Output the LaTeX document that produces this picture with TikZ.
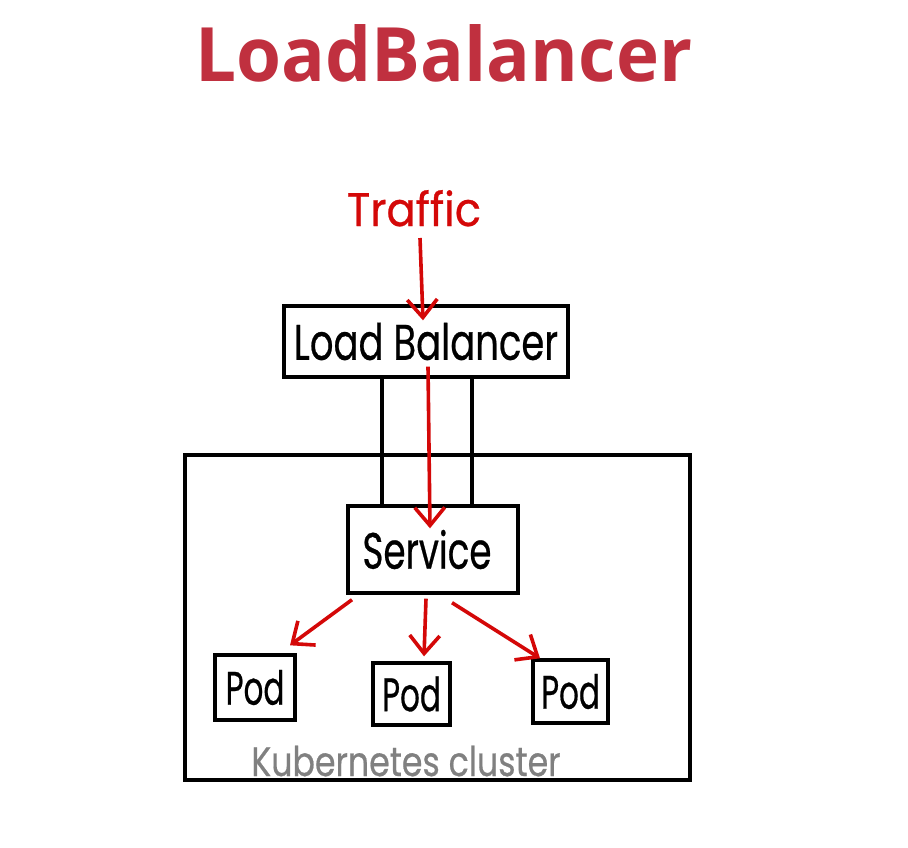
\documentclass[tikz,border=0pt]{standalone}
\usepackage{fontspec}
\usetikzlibrary{arrows.meta}
\newfontfamily\titlefont{Open Sans}[BoldFont={* Bold}]
\newfontfamily\handfont{Poppins}[FakeBold=0.6]
\definecolor{titlered}{RGB}{192,48,63}
\definecolor{inkred}{RGB}{212,8,8}
\definecolor{inkgray}{RGB}{128,128,128}
\newcommand{\hw}[3]{\scalebox{#2}[1]{\fontsize{#1}{#1}\selectfont\handfont #3}}
\tikzset{
  box/.style={draw=black, line width=3.4pt, inner sep=0pt, align=center},
  redarrow/.style={draw=inkred, line width=3.6pt, -{Straight Barb[length=18pt,width=30pt,line width=3.6pt]}},
  wire/.style={draw=black, line width=3.2pt},
}
\begin{document}
\begin{tikzpicture}[x=1pt,y=-1pt]
\useasboundingbox (0,0) rectangle (908,848);
\fill[white] (0,0) rectangle (908,848);
% title
\node[anchor=base, inner sep=0pt, text=titlered] (title) at (444,82)
  {\scalebox{0.97}[1]{\fontsize{75}{75}\selectfont\titlefont\bfseries LoadBalancer}};
% cluster
\node[box, minimum width=505pt, minimum height=325pt] (cluster) at (437.5,617.5) {};
% boxes
\node[box, minimum width=284pt, minimum height=71pt] (lb) at (426,341.5) {\hw{50}{0.74}{Load Balancer}};
\node[box, minimum width=170pt, minimum height=87pt] (svc) at (433,549.5) {\kern-12pt\hw{51}{0.70}{Service}};
\node[box, minimum width=80pt, minimum height=65pt] (pod1) at (255,687.5) {\hw{47}{0.66}{Pod}};
\node[box, minimum width=77pt, minimum height=62pt] (pod2) at (411.5,694) {\hw{47}{0.66}{Pod}};
\node[box, minimum width=75pt, minimum height=63pt] (pod3) at (570.5,691.5) {\hw{47}{0.66}{Pod}};
% labels
\node[anchor=base, inner sep=0pt, text=inkred] (traffic) at (414,226) {\hw{47}{0.92}{Traffic}};
\node[anchor=base, inner sep=0pt, text=inkgray] (k8s) at (406,776) {\hw{41}{0.81}{Kubernetes cluster}};
% wires
\coordinate (c1) at (382,0);
\coordinate (c2) at (472,0);
\draw[wire] (lb.south -| c1) -- (svc.north -| c1);
\draw[wire] (lb.south -| c2) -- (svc.north -| c2);
% red arrows
\draw[redarrow] ([xshift=6pt,yshift=-12pt]traffic.base) -- ([xshift=-3pt,yshift=-16pt]lb.north);
\draw[redarrow] ([xshift=2pt,yshift=12pt]lb.south) -- ([xshift=-3pt,yshift=-24pt]svc.north);
\draw[redarrow] ([xshift=-81pt,yshift=-5pt]svc.south) -- ([xshift=35pt,yshift=8pt]pod1.north);
\draw[redarrow] ([xshift=-7pt,yshift=-4pt]svc.south) -- ([xshift=12.5pt,yshift=5pt]pod2.north);
\draw[redarrow] ([xshift=19pt,yshift=-8pt]svc.south) -- ([xshift=-30.5pt,yshift=0pt]pod3.north);
\end{tikzpicture}
\end{document}
